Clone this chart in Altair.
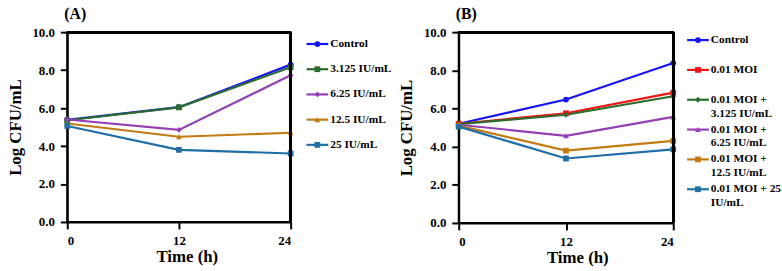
import altair as alt
import pandas as pd

# ---------------- data ----------------
times = [0, 12, 24]

a_series = ["Control", "3.125 IU/mL", "6.25 IU/mL", "12.5 IU/mL", "25 IU/mL"]
a_control = [5.38, 6.05, 8.29]
a_3125 = [5.36, 6.04, 8.15]
a_625 = [5.40, 4.85, 7.73]
a_125 = [5.19, 4.49, 4.70]
a_25 = [5.06, 3.80, 3.61]
a_colors = ["#1414f5", "#2b6b2b", "#9440b4", "#c27a12", "#1f6ea6"]
a_shapes = ["circle", "square", "diamond", "triangle-up", "square"]

b_series = ["Control", "0.01 MOI", "0.01 MOI +|3.125 IU/mL", "0.01 MOI +|6.25 IU/mL",
            "0.01 MOI +|12.5 IU/mL", "0.01 MOI + 25|IU/mL"]
b_control = [5.20, 6.47, 8.38]
b_moi = [5.20, 5.75, 6.83]
b_3125 = [5.18, 5.67, 6.64]
b_625 = [5.15, 4.57, 5.56]
b_125 = [5.10, 3.79, 4.30]
b_25 = [5.05, 3.38, 3.86]
b_err = [[0.03, 0.05, 0.05], [0.03, 0.05, 0.05], [0.03, 0.05, 0.05],
         [0.03, 0.05, 0.05], [0.03, 0.10, 0.05], [0.03, 0.15, 0.08]]
b_colors = ["#1414f5", "#ee1414", "#2b6b2b", "#9440b4", "#c27a12", "#1f6ea6"]
b_shapes = ["circle", "square", "diamond", "triangle-up", "square", "square"]

x_range = [0, 24]
y_range = [0, 10]

FONT = "Liberation Serif"


def build_df(series, values, errs=None):
    rows = []
    for i, (s, vals) in enumerate(zip(series, values)):
        for j, (t, v) in enumerate(zip(times, vals)):
            e = errs[i][j] if errs else 0.0
            rows.append({"series": s, "time": t, "value": v, "lo": v - e, "hi": v + e})
    return pd.DataFrame(rows)


def plot_panel(series, values, colors, shapes, label, w, h, errs=None, title_x=None):
    df = build_df(series, values, errs)
    base = alt.Chart(df)
    xs = alt.Scale(domain=x_range, nice=False)
    ys = alt.Scale(domain=y_range, nice=False)
    x = alt.X("time:Q", scale=xs,
              axis=alt.Axis(values=times, title="Time (h)", labelAngle=0,
                            titleX=title_x, titlePadding=1))
    y = alt.Y("value:Q", scale=ys,
              axis=alt.Axis(tickCount=5, format=".1f", title="Log CFU/mL",
                            titlePadding=8, labelOverlap=False, labelFlush=False))
    col = alt.Color("series:N", scale=alt.Scale(domain=series, range=colors), legend=None)
    shp = alt.Shape("series:N", scale=alt.Scale(domain=series, range=shapes), legend=None)

    layers = [base.mark_line(strokeWidth=2.2).encode(x=x, y=y, color=col, detail="series:N")]
    if errs:
        layers.append(base.mark_rule(strokeWidth=1.5).encode(
            x="time:Q", y="lo:Q", y2="hi:Q", color=col))
    layers.append(base.mark_point(filled=True, opacity=1, size=34).encode(
        x="time:Q", y="value:Q", color=col, shape=shp))
    # frame: top and right edges of the plot box, drawn through the shared scales
    layers.append(base.mark_rule(color="black", strokeWidth=2).encode(
        x=alt.datum(x_range[0]), x2=alt.datum(x_range[1]), y=alt.datum(y_range[1])))
    layers.append(base.mark_rule(color="black", strokeWidth=2).encode(
        x=alt.datum(x_range[1]), y=alt.datum(y_range[0]), y2=alt.datum(y_range[1])))
    return alt.layer(*layers).properties(
        width=w, height=h,
        title=alt.TitleParams(label, anchor="start", frame="group", font=FONT, fontSize=16,
                              fontWeight="bold", color="black", offset=4, dx=-3),
    )


def legend_panel(series, colors, shapes, w, h, dom):
    ldf = pd.DataFrame({"series": series, "idx": list(range(len(series)))})
    base = alt.Chart(ldf)
    y = alt.Y("idx:Q", scale=alt.Scale(domain=dom, reverse=True, nice=False, zero=False), axis=None)
    col = alt.Color("series:N", scale=alt.Scale(domain=series, range=colors), legend=None)
    shp = alt.Shape("series:N", scale=alt.Scale(domain=series, range=shapes), legend=None)
    rule = base.mark_rule(strokeWidth=2.2).encode(x=alt.value(0), x2=alt.value(22), y=y, color=col)
    pts = base.mark_point(filled=True, opacity=1, size=34).encode(
        x=alt.value(11), y="idx:Q", color=col, shape=shp)
    txt = base.mark_text(align="left", baseline="top", dx=0, dy=-6, font=FONT,
                         fontWeight="bold", fontSize=11.5, color="black",
                         lineBreak="|", lineHeight=14).encode(
        x=alt.value(24), y="idx:Q", text="series:N")
    return alt.layer(rule, pts, txt).properties(
        width=w, height=h, view=alt.ViewBackground(strokeWidth=0, strokeOpacity=0))


pa = plot_panel(a_series, [a_control, a_3125, a_625, a_125, a_25], a_colors, a_shapes,
                "(A)", 226, 192, title_x=121)
la = legend_panel(a_series, a_colors, a_shapes, 84, 192, [-0.47, 7.06])
pb = plot_panel(b_series, [b_control, b_moi, b_3125, b_625, b_125, b_25], b_colors, b_shapes,
                "(B)", 217, 193, errs=b_err, title_x=120)
lb = legend_panel(b_series, b_colors, b_shapes, 92, 193, [-0.265, 6.13])

left = alt.hconcat(pa, la, spacing=8).resolve_scale(color="independent", shape="independent")
right = alt.hconcat(pb, lb, spacing=6).resolve_scale(color="independent", shape="independent")

chart = alt.hconcat(left, right, spacing=5).resolve_scale(
    color="independent", shape="independent"
).properties(
    padding={"left": 5, "top": 4, "right": 0, "bottom": 0},
    background="white",
).configure_view(
    stroke="black", strokeWidth=2
).configure_axis(
    grid=False, domainColor="black", domainWidth=2, tickColor="black", tickWidth=2,
    tickSize=7, labelFont=FONT, labelFontSize=13, labelFontWeight="bold",
    labelColor="black", labelPadding=6, titleFont=FONT, titleFontSize=17,
    titleFontWeight="bold", titleColor="black", labelOverlap=False,
)

chart.save("out.html", embed_options={"renderer": "svg", "actions": False})
